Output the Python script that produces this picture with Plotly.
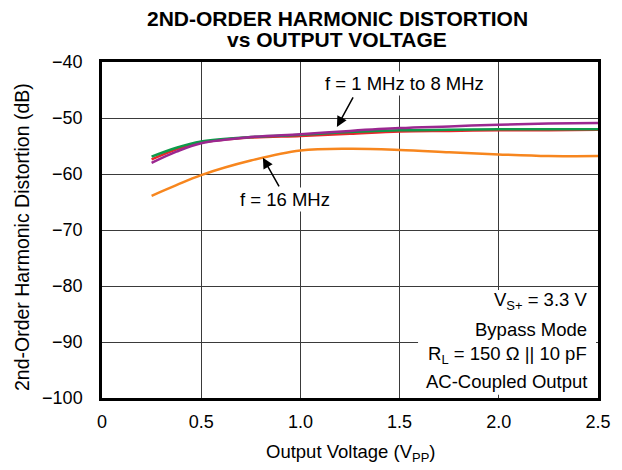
import plotly.graph_objects as go

x_vals = [0.25, 0.375, 0.5, 0.75, 1.0, 1.25, 1.5, 1.75, 2.0, 2.25, 2.5]
hd2_green = [-56.9, -55.3, -54.2, -53.4, -53.0, -52.5, -52.2, -52.1, -52.0, -52.0, -52.0]
hd2_red = [-57.4, -55.6, -54.4, -53.5, -53.2, -52.8, -52.4, -52.3, -52.2, -52.2, -52.1]
hd2_purple = [-58.0, -56.0, -54.5, -53.4, -52.9, -52.3, -51.8, -51.5, -51.2, -51.0, -50.9]
hd2_16mhz = [-63.9, -62.0, -60.2, -57.6, -55.8, -55.5, -55.7, -56.1, -56.5, -56.8, -56.8]

x_ticks = [0, 0.5, 1.0, 1.5, 2.0, 2.5]
x_tick_text = ["0", "0.5", "1.0", "1.5", "2.0", "2.5"]
y_ticks = [-100, -90, -80, -70, -60, -50, -40]
y_tick_text = ["\u2212100", "\u221290", "\u221280", "\u221270", "\u221260", "\u221250", "\u221240"]

cond_lines = ["V<sub>S+</sub> = 3.3 V", "Bypass Mode", "R<sub>L</sub> = 150 \u03a9 || 10 pF", "AC-Coupled Output"]
cond_y = [-82.7, -87.7, -92.3, -97.0]

FONT = "Liberation Sans, Arial, Helvetica, sans-serif"
FS = 18.5

fig = go.Figure()
for ys, col in [(hd2_16mhz, "#F7861E"), (hd2_red, "#E8262A"), (hd2_green, "#0E9A4A"), (hd2_purple, "#9B2790")]:
    fig.add_trace(go.Scatter(x=x_vals, y=ys, mode="lines", line=dict(color=col, width=2.5, shape="spline", smoothing=1.0),
                             showlegend=False, hoverinfo="skip"))

axis_common = dict(showgrid=True, gridcolor="#3a3a3a", gridwidth=1, zeroline=False, showline=True, mirror=True,
                   linecolor="black", linewidth=2.5, ticks="", tickfont=dict(size=18))

fig.update_layout(
    width=614, height=462,
    margin=dict(l=94, r=24, t=54, b=72),
    paper_bgcolor="white", plot_bgcolor="white",
    font=dict(family=FONT, color="black", size=FS),
    xaxis=dict(range=[0, 2.5], tickvals=x_ticks, ticktext=x_tick_text, ticklabelstandoff=6, **axis_common),
    yaxis=dict(range=[-100, -40], tickvals=y_ticks, ticktext=y_tick_text, ticklabelstandoff=13, **axis_common),
)

# titles
fig.add_annotation(x=0.474, y=1.129, xref="paper", yref="paper", text="<b>2ND-ORDER HARMONIC DISTORTION</b>",
                   showarrow=False, yanchor="middle", font=dict(size=21))
fig.add_annotation(x=0.474, y=1.066, xref="paper", yref="paper", text="<b>vs OUTPUT VOLTAGE</b>",
                   showarrow=False, yanchor="middle", font=dict(size=21))
fig.add_annotation(x=0.502, y=-0.164, xref="paper", yref="paper", text="Output Voltage (V<sub>PP</sub>)",
                   showarrow=False, yanchor="middle", font=dict(size=FS))
fig.add_annotation(x=-0.160, y=0.478, xref="paper", yref="paper", text="2nd-Order Harmonic Distortion (dB)",
                   showarrow=False, textangle=-90, xanchor="center", yanchor="middle", font=dict(size=19.5))

# curve labels
fig.add_annotation(x=1.184, y=-51.6, xref="x", yref="y", text="", showarrow=True, arrowhead=2, arrowsize=1.4,
                   arrowwidth=1.5, arrowcolor="black", ax=17, ay=-31)
fig.add_annotation(x=1.527, y=-43.75, xref="x", yref="y", text="f = 1 MHz to 8 MHz", showarrow=False,
                   bgcolor="white", font=dict(size=FS))
fig.add_annotation(x=0.811, y=-57.1, xref="x", yref="y", text="", showarrow=True, arrowhead=2, arrowsize=1.4,
                   arrowwidth=1.5, arrowcolor="black", ax=17, ay=30)
fig.add_annotation(x=0.922, y=-64.6, xref="x", yref="y", text="f = 16 MHz", showarrow=False,
                   bgcolor="white", font=dict(size=FS))

# conditions box
fig.add_shape(type="rect", xref="x", yref="y", x0=1.593, x1=2.49, y0=-99.4, y1=-80.7,
              fillcolor="white", line=dict(width=0), layer="above")
for txt, yy in zip(cond_lines, cond_y):
    fig.add_annotation(x=2.455, y=yy, xref="x", yref="y", xanchor="right", yanchor="middle", text=txt,
                       showarrow=False, font=dict(size=FS))

fig.write_html("out.html")
